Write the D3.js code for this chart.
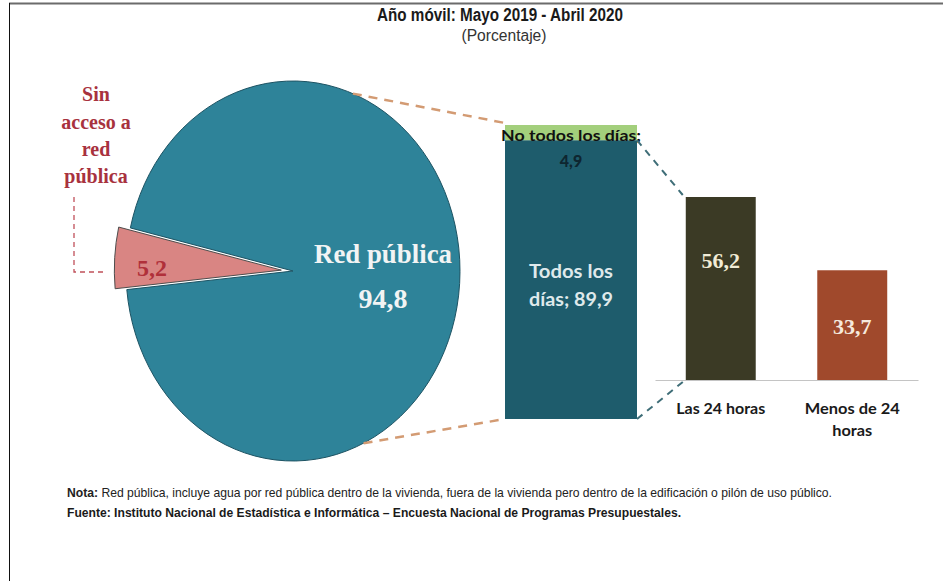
<!DOCTYPE html>
<html>
<head>
<meta charset="utf-8">
<script src="https://cdn.jsdelivr.net/npm/d3@7"></script>
<style>
  html, body { margin: 0; padding: 0; background: #ffffff; }
  svg { display: block; }
</style>
</head>
<body>
<svg id="chart" width="943" height="581"></svg>
<script>
// ---------------- data ----------------
const titleText = "Año móvil: Mayo 2019 - Abril 2020";
const subtitleText = "(Porcentaje)";
const pieCategories = ["Red pública", "Sin acceso a red pública"];
const pieValues = [94.8, 5.2];
const stackCategories = ["Todos los días", "No todos los días"];
const stackValues = [89.9, 4.9];
const barCategories = ["Las 24 horas", "Menos de 24 horas"];
const barValues = [56.2, 33.7];
const noteLabel = "Nota:";
const noteText = " Red pública, incluye agua por red pública dentro de la vivienda, fuera de la vivienda pero dentro de la edificación o pilón de uso público.";
const sourceText = "Fuente: Instituto Nacional de Estadística e Informática – Encuesta Nacional de Programas Presupuestales.";

const fmt = v => String(v).replace(".", ",");

// ---------------- setup ----------------
const svg = d3.select("#chart");
const narrow = "'Liberation Sans Narrow', 'Liberation Sans', Arial, sans-serif";
const serif = "'Liberation Serif', 'Times New Roman', serif";
const sans = "Lato, 'Open Sans', sans-serif";

// frame
svg.append("line").attr("x1", 9).attr("x2", 943).attr("y1", 3.5).attr("y2", 3.5)
  .attr("stroke", "#6b6b6b").attr("stroke-width", 2);
svg.append("line").attr("x1", 9.5).attr("x2", 9.5).attr("y1", 3).attr("y2", 581)
  .attr("stroke", "#111").attr("stroke-width", 1);

// titles
svg.append("text").attr("x", 500).attr("y", 21).attr("text-anchor", "middle")
  .attr("font-family", narrow).attr("font-weight", "bold").attr("font-size", 18)
  .attr("fill", "#1a1a1a").attr("textLength", 246).attr("lengthAdjust", "spacingAndGlyphs")
  .text(titleText);
svg.append("text").attr("x", 504).attr("y", 41).attr("text-anchor", "middle")
  .attr("font-family", narrow).attr("font-size", 16)
  .attr("fill", "#333").attr("textLength", 85).attr("lengthAdjust", "spacingAndGlyphs")
  .text(subtitleText);

// ---------------- pie (elliptical) ----------------
const cx = 293, cy = 271, rx = 167, ry = 190, R = 100;
const toRad = d => d * Math.PI / 180;
const start = toRad(283.1);
const pie = d3.pie().sort(null).startAngle(start).endAngle(start + 2 * Math.PI);
const arcs = pie(pieValues);
const arc = d3.arc().innerRadius(0).outerRadius(R);
const pieColors = ["#2e8399", "#d98583"];
const pieStroke = ["#1d5363", "#4d4d4d"];

const pg = svg.append("g").attr("transform", `translate(${cx},${cy}) scale(${rx / R},${ry / R})`);
pg.selectAll("path").data(arcs).join("path")
  .attr("d", arc)
  .attr("fill", (d, i) => pieColors[i])
  .attr("stroke", (d, i) => pieStroke[i])
  .attr("stroke-width", 1)
  .attr("vector-effect", "non-scaling-stroke")
  .attr("transform", (d, i) => {
    if (i === 0) return null;
    const a = (d.startAngle + d.endAngle) / 2;
    const off = 7;
    return `translate(${Math.sin(a) * off},${-Math.cos(a) * off})`;
  });

// pie labels
svg.append("text").attr("x", 383).attr("y", 263).attr("text-anchor", "middle")
  .attr("font-family", serif).attr("font-weight", "bold").attr("font-size", 28)
  .attr("fill", "#f2f4f4").attr("textLength", 138).attr("lengthAdjust", "spacingAndGlyphs")
  .text(pieCategories[0]);
svg.append("text").attr("x", 383).attr("y", 308).attr("text-anchor", "middle")
  .attr("font-family", serif).attr("font-weight", "bold").attr("font-size", 28)
  .attr("fill", "#f2f4f4").text(fmt(pieValues[0]));
svg.append("text").attr("x", 152).attr("y", 276).attr("text-anchor", "middle")
  .attr("font-family", serif).attr("font-weight", "bold").attr("font-size", 24)
  .attr("fill", "#b0303a").text(fmt(pieValues[1]));

const sinLines = ["Sin", "acceso a", "red", "pública"];
const sinY = [101, 129, 156, 183];
svg.append("g").selectAll("text").data(sinLines).join("text")
  .attr("x", 96).attr("y", (d, i) => sinY[i]).attr("text-anchor", "middle")
  .attr("font-family", serif).attr("font-weight", "bold").attr("font-size", 20)
  .attr("fill", "#a8323e").text(d => d);
svg.append("path").attr("d", "M74,197 V272 H104")
  .attr("fill", "none").attr("stroke", "#c0505a").attr("stroke-width", 1.3)
  .attr("stroke-dasharray", "5,4");

// ---------------- stacked bar ----------------
const xStack = d3.scaleBand().domain(["Red pública"]).range([505, 637]).padding(0);
const yStack = d3.scaleLinear().domain([0, d3.sum(stackValues)]).range([419, 125]);
const stackData = d3.stack().keys(stackCategories)([
  Object.fromEntries(stackCategories.map((k, i) => [k, stackValues[i]]))
]);
const stackColors = ["#1e5c6c", "#a3cf7c"];
svg.append("g").selectAll("rect").data(stackData).join("rect")
  .attr("x", xStack("Red pública"))
  .attr("width", xStack.bandwidth())
  .attr("y", d => yStack(d[0][1]))
  .attr("height", d => yStack(d[0][0]) - yStack(d[0][1]))
  .attr("fill", (d, i) => stackColors[i]);

const scx = xStack("Red pública") + xStack.bandwidth() / 2;
svg.append("text").attr("x", scx).attr("y", 141).attr("text-anchor", "middle")
  .attr("font-family", sans).attr("font-weight", "bold").attr("font-size", 16)
  .attr("fill", "#111").attr("textLength", 140).attr("lengthAdjust", "spacingAndGlyphs")
  .text(stackCategories[1] + ";");
svg.append("text").attr("x", scx).attr("y", 167).attr("text-anchor", "middle")
  .attr("font-family", sans).attr("font-weight", "900").attr("font-size", 16)
  .attr("fill", "#0e2630").text(fmt(stackValues[1]));
const todosLines = ["Todos los", "días; " + fmt(stackValues[0])];
svg.append("g").selectAll("text").data(todosLines).join("text")
  .attr("x", scx).attr("y", (d, i) => 278 + i * 28).attr("text-anchor", "middle")
  .attr("font-family", sans).attr("font-weight", "bold").attr("font-size", 19)
  .attr("fill", "#dfe9eb").attr("textLength", 84).attr("lengthAdjust", "spacingAndGlyphs")
  .text(d => d);

// ---------------- bars ----------------
const xBar = d3.scaleBand().domain(barCategories).range([655, 918])
  .paddingInner(0.468).paddingOuter(0.234);
const yBar = d3.scaleLinear().domain([0, barValues[0]]).range([380, 197]);
const barColors = ["#3b3a25", "#a0492c"];
const barTextColors = ["#f1ecd6", "#f6e9dd"];

svg.append("g").selectAll("rect").data(barValues).join("rect")
  .attr("x", (d, i) => xBar(barCategories[i]))
  .attr("width", xBar.bandwidth())
  .attr("y", d => yBar(d))
  .attr("height", d => yBar(0) - yBar(d))
  .attr("fill", (d, i) => barColors[i]);

const barLabelY = [268, 334];
svg.append("g").selectAll("text").data(barValues).join("text")
  .attr("x", (d, i) => xBar(barCategories[i]) + xBar.bandwidth() / 2)
  .attr("y", (d, i) => barLabelY[i])
  .attr("text-anchor", "middle")
  .attr("font-family", serif).attr("font-weight", "bold").attr("font-size", 22)
  .attr("fill", (d, i) => barTextColors[i])
  .text(d => fmt(d));

const axis = svg.append("g").attr("transform", `translate(0,${yBar(0)})`)
  .call(d3.axisBottom(xBar).tickSize(0).tickSizeOuter(0).tickPadding(0).tickFormat(""));
axis.select(".domain").attr("stroke", "#c4c4c4").attr("stroke-width", 1.2);
axis.selectAll(".tick text").remove();
const catLines = [["Las 24 horas"], ["Menos de 24", "horas"]];
const catWidths = [[89], [95, 40]];
axis.selectAll(".tick").each(function (d, i) {
  const g = d3.select(this);
  catLines[i].forEach((ln, j) => {
    g.append("text")
      .attr("text-anchor", "middle")
      .attr("font-family", sans).attr("font-weight", "bold").attr("font-size", 16)
      .attr("fill", "#1a1a1a")
      .attr("x", 0).attr("y", 34 + j * 22)
      .attr("textLength", catWidths[i][j]).attr("lengthAdjust", "spacingAndGlyphs")
      .text(ln);
  });
});

// ---------------- connectors ----------------
function ellipsePt(deg) {
  const a = toRad(deg);
  return [cx + Math.sin(a) * rx, cy - Math.cos(a) * ry];
}
const pTop = ellipsePt(21), pBot = ellipsePt(155);
const sx0 = xStack("Red pública"), sx1 = sx0 + xStack.bandwidth();
const orange = "#d39b73";
svg.append("line").attr("x1", pTop[0]).attr("y1", pTop[1]).attr("x2", sx0).attr("y2", yStack(d3.sum(stackValues)) - 2)
  .attr("stroke", orange).attr("stroke-width", 2.5).attr("stroke-dasharray", "9,7");
svg.append("line").attr("x1", pBot[0]).attr("y1", pBot[1]).attr("x2", sx0).attr("y2", yStack(0))
  .attr("stroke", orange).attr("stroke-width", 2.5).attr("stroke-dasharray", "9,7");
const blue = "#3f6e78";
svg.append("line").attr("x1", sx1).attr("y1", yStack(stackValues[0]))
  .attr("x2", xBar(barCategories[0]) - 3).attr("y2", yBar(barValues[0]) - 2)
  .attr("stroke", blue).attr("stroke-width", 2).attr("stroke-dasharray", "7,6");
svg.append("line").attr("x1", sx1).attr("y1", yStack(0))
  .attr("x2", xBar(barCategories[0]) - 3).attr("y2", yBar(0) + 2)
  .attr("stroke", blue).attr("stroke-width", 2).attr("stroke-dasharray", "7,6");

// ---------------- footer ----------------
const note = svg.append("text").attr("x", 67).attr("y", 497)
  .attr("font-family", narrow).attr("font-size", 13).attr("fill", "#222")
  .attr("textLength", 765).attr("lengthAdjust", "spacingAndGlyphs");
note.append("tspan").attr("font-weight", "bold").text(noteLabel);
note.append("tspan").text(noteText);
svg.append("text").attr("x", 67).attr("y", 517)
  .attr("font-family", narrow).attr("font-size", 13).attr("font-weight", "bold").attr("fill", "#1a1a1a")
  .attr("textLength", 614).attr("lengthAdjust", "spacingAndGlyphs")
  .text(sourceText);
</script>
</body>
</html>
